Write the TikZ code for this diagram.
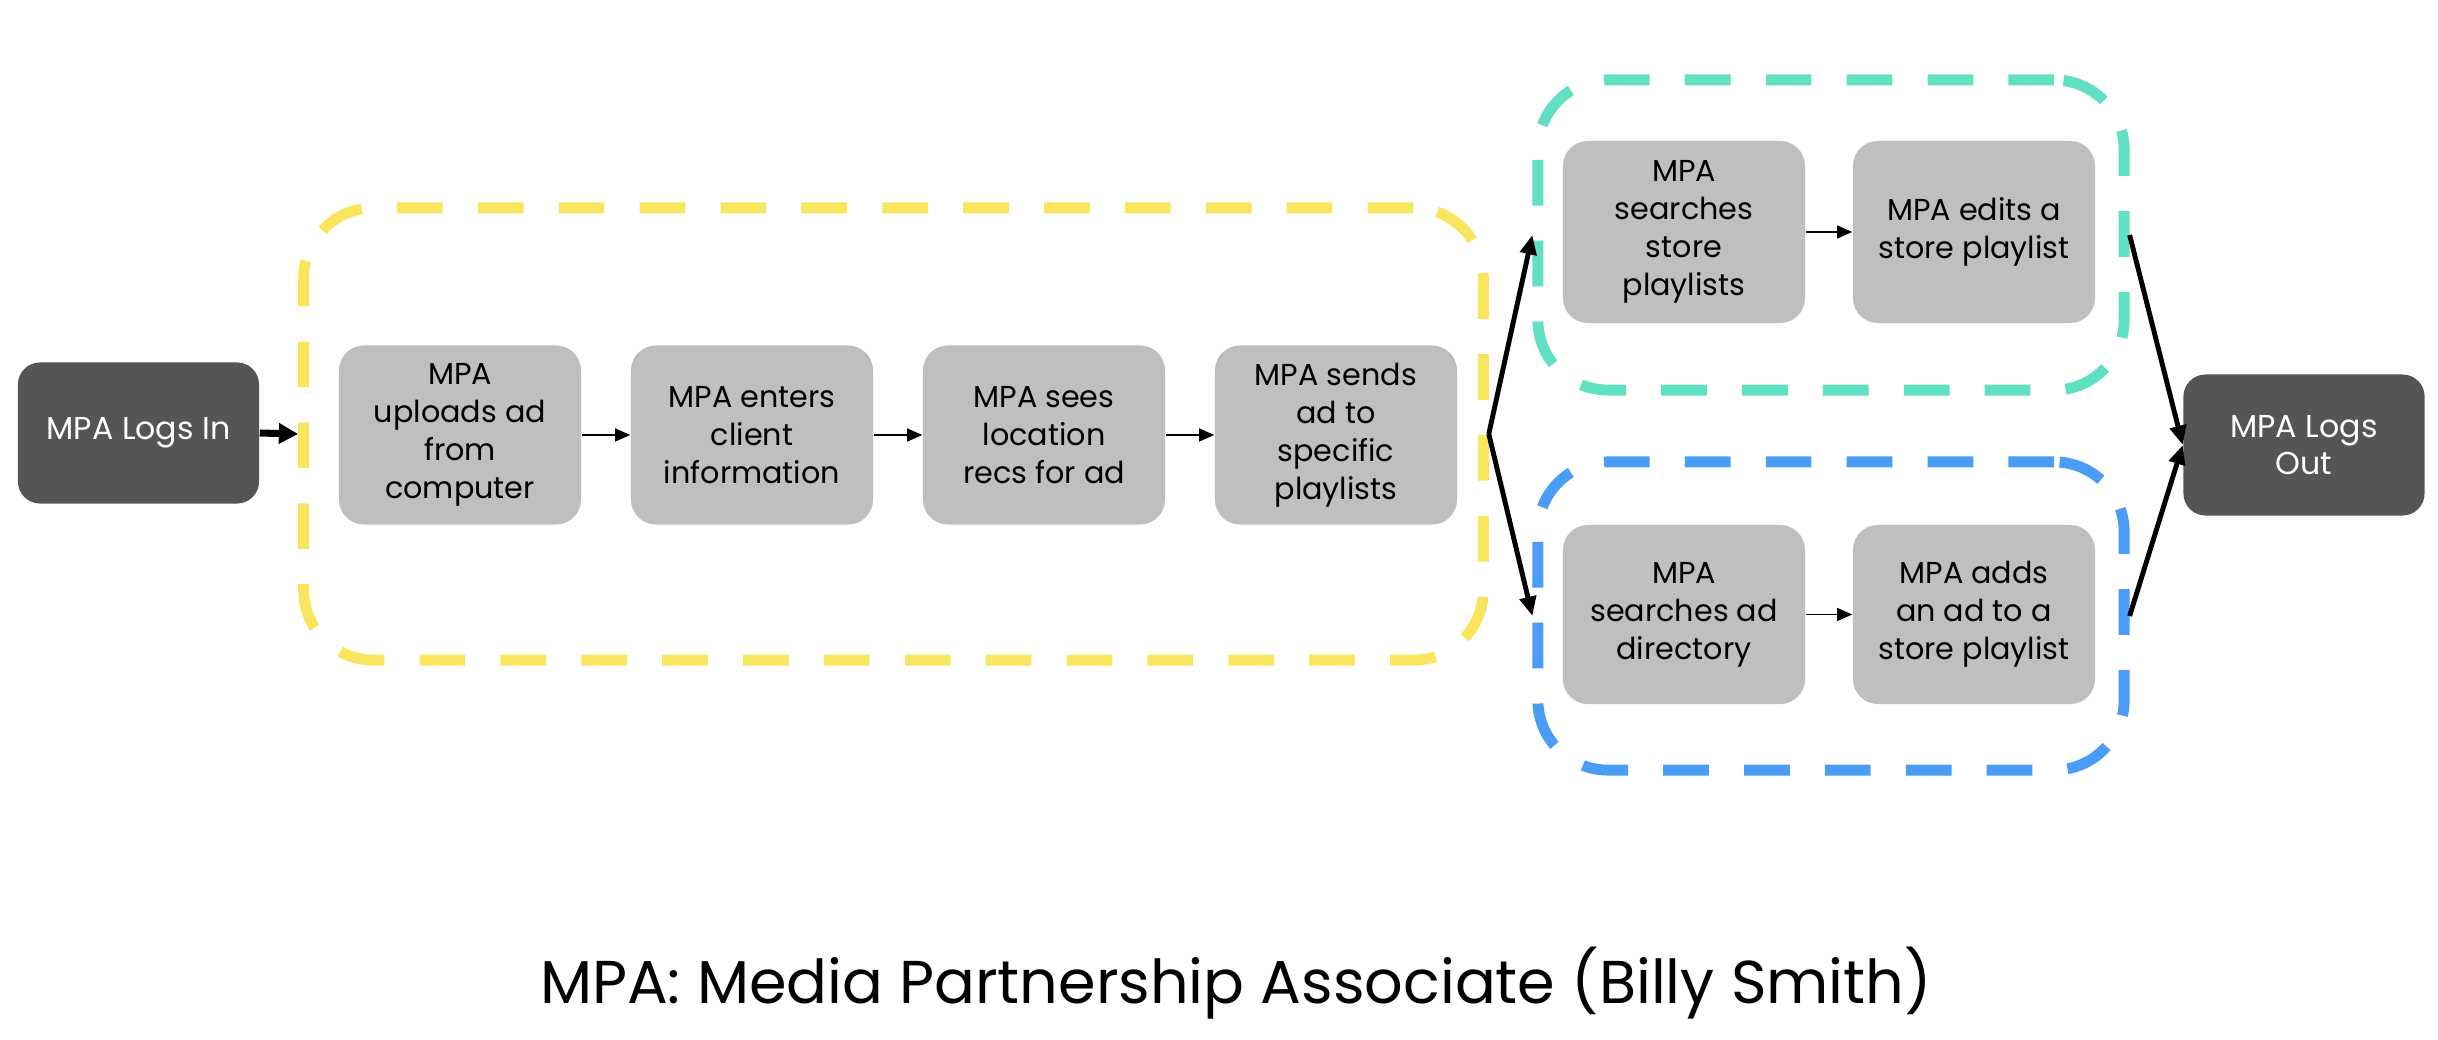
\documentclass[tikz,border=0pt]{standalone}
\usepackage{fontspec}
\setmainfont{Poppins}
\usetikzlibrary{arrows.meta}
\definecolor{ygold}{HTML}{FAE55E}
\definecolor{tealc}{HTML}{62E0C3}
\definecolor{bluec}{HTML}{4A9CF4}
\definecolor{darkbox}{HTML}{555555}
\definecolor{lightbox}{HTML}{BFBFBF}
\begin{document}
\begin{tikzpicture}[x=0.01cm,y=-0.01cm,
  stepbox/.style={fill=lightbox, rounded corners=0.25cm, minimum width=2.42cm, minimum height=1.79cm, inner sep=0pt, align=center, text=black, font=\fontsize{8.6}{10.8}\selectfont},
  endbox/.style={fill=darkbox, rounded corners=0.22cm, minimum width=2.41cm, minimum height=1.41cm, inner sep=0pt, align=center, text=white, font=\fontsize{9}{10.4}\selectfont},
  group/.style={draw, line width=3.1pt, dash pattern=on 13pt off 10pt, rounded corners=0.7cm, inner sep=0pt},
  flow/.style={-{Triangle[length=5.5pt,width=4.6pt]}, line width=1.4pt, black},
  thinflow/.style={-{Triangle[length=4.3pt,width=3.7pt]}, line width=0.4pt, black}
]
\useasboundingbox (0,0) rectangle (2438,1040);
% groups
\node[group, draw=ygold, minimum width=11.79cm, minimum height=4.52cm] (yellow) at (893.5,434) {};
\node[group, draw=tealc, minimum width=5.86cm, minimum height=3.10cm] (teal) at (1831,235) {};
\node[group, draw=bluec, minimum width=5.86cm, minimum height=3.08cm] (blue) at (1831,616) {};
% end boxes
\node[endbox] (login) at (138.5,433) {MPA Logs In};
\node[endbox] (logout) at (2304,445) {MPA Logs\\Out};
% steps
\node[stepbox] (b1) at (460,435) {MPA\\uploads ad\\from\\computer};
\node[stepbox] (b2) at (752,435) {MPA enters\\client\\information};
\node[stepbox] (b3) at (1044,435) {MPA sees\\location\\recs for ad};
\node[stepbox] (b4) at (1336,435) {MPA sends\\ad to\\specific\\playlists};
\node[stepbox, minimum height=1.82cm] (t1) at (1684,232) {MPA\\searches\\store\\playlists};
\node[stepbox, minimum height=1.82cm] (t2) at (1974,232) {MPA edits a\\store playlist};
\node[stepbox] (u1) at (1684,614.5) {MPA\\searches ad\\directory};
\node[stepbox] (u2) at (1974,614.5) {MPA adds\\an ad to a\\store playlist};
% connectors
\draw[thinflow] (b1) -- (b2);
\draw[thinflow] (b2) -- (b3);
\draw[thinflow] (b3) -- (b4);
\draw[thinflow] (t1) -- (t2);
\draw[thinflow] (u1) -- (u2);
\draw[-{Triangle[length=5.5pt,width=5.6pt]}, line width=2pt] (login.east) -- (yellow.west);
\draw[flow] (yellow.east) -- (teal.west);
\draw[flow] (yellow.east) -- (blue.west);
\draw[flow] (teal.east) -- (logout.west);
\draw[flow] (blue.east) -- (logout.west);
% caption
\node[font=\fontsize{17.2}{21}\selectfont, anchor=center] (caption) at (1236,983) {MPA: Media Partnership Associate (Billy Smith)};
\end{tikzpicture}
\end{document}
